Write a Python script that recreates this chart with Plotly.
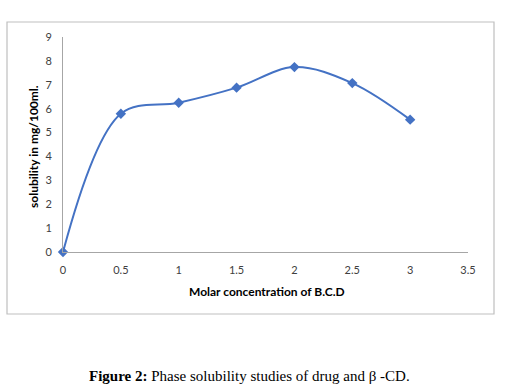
import plotly.graph_objects as go

conc = [0, 0.5, 1, 1.5, 2, 2.5, 3]
solubility = [0, 5.79, 6.25, 6.88, 7.74, 7.07, 5.54]
x_ticks = [0, 0.5, 1, 1.5, 2, 2.5, 3, 3.5]
x_tick_text = ["0", "0.5", "1", "1.5", "2", "2.5", "3", "3.5"]
y_ticks = [0, 1, 2, 3, 4, 5, 6, 7, 8, 9]
y_tick_text = [str(v) for v in y_ticks]

W, H = 506, 386
ML, MR, MT, MB = 63, 38, 37, 134
PW, PH = W - ML - MR, H - MT - MB

def px(x):
    return (x - ML) / PW

def py(y):
    return (H - MB - y) / PH

fig = go.Figure()
fig.add_trace(go.Scatter(
    x=conc, y=solubility, mode="lines+markers",
    line=dict(color="#4472C4", width=2, shape="spline", smoothing=1),
    marker=dict(symbol="diamond", size=8, color="#4472C4"),
    showlegend=False, cliponaxis=False,
))

tickfont = dict(family="Lato, Open Sans, sans-serif", size=11, color="#404040")
titlefont = dict(family="Lato, Open Sans, sans-serif", size=12, color="#000000")
fig.update_layout(
    width=W, height=H, autosize=False,
    margin=dict(l=ML, r=MR, t=MT, b=MB, autoexpand=False),
    paper_bgcolor="white", plot_bgcolor="white",
    xaxis=dict(range=[0, 3.5], tickvals=x_ticks, ticktext=x_tick_text, tickangle=0,
               showgrid=False, zeroline=False, showline=True, automargin=False,
               linecolor="#A6A6A6", linewidth=1,
               ticks="outside", ticklen=8, tickcolor="rgba(0,0,0,0)",
               tickfont=tickfont),
    yaxis=dict(range=[0, 9], tickvals=y_ticks, ticktext=y_tick_text, tickangle=0,
               showgrid=False, zeroline=False,
               showline=True, linecolor="#A6A6A6", linewidth=1, automargin=False,
               ticks="outside", ticklen=8, tickcolor="rgba(0,0,0,0)",
               tickfont=tickfont),
    shapes=[dict(type="rect", xref="paper", yref="paper",
                 x0=px(7), x1=px(494), y0=py(314), y1=py(22),
                 line=dict(color="#BFBFBF", width=1.2), layer="below")],
    annotations=[
        dict(text="<b>Molar concentration of B.C.D</b>", xref="paper", yref="paper",
             x=px(267), y=py(291), xanchor="center", yanchor="middle", showarrow=False,
             font=titlefont),
        dict(text="<b>solubility in mg/100ml.</b>", xref="paper", yref="paper",
             x=px(33), y=py(147), xanchor="center", yanchor="middle",
             textangle=-90, showarrow=False, font=titlefont),
        dict(text="<b>Figure 2:</b> Phase solubility studies of drug and β -CD.",
             xref="paper", yref="paper", x=px(249), y=py(376),
             xanchor="center", yanchor="middle", showarrow=False,
             font=dict(family="Liberation Serif, Times New Roman, serif", size=15, color="#000000")),
    ],
)

fig.write_html("out.html", config={"displayModeBar": False},
               post_script="document.body.style.margin='0';document.body.style.overflow='hidden';")
